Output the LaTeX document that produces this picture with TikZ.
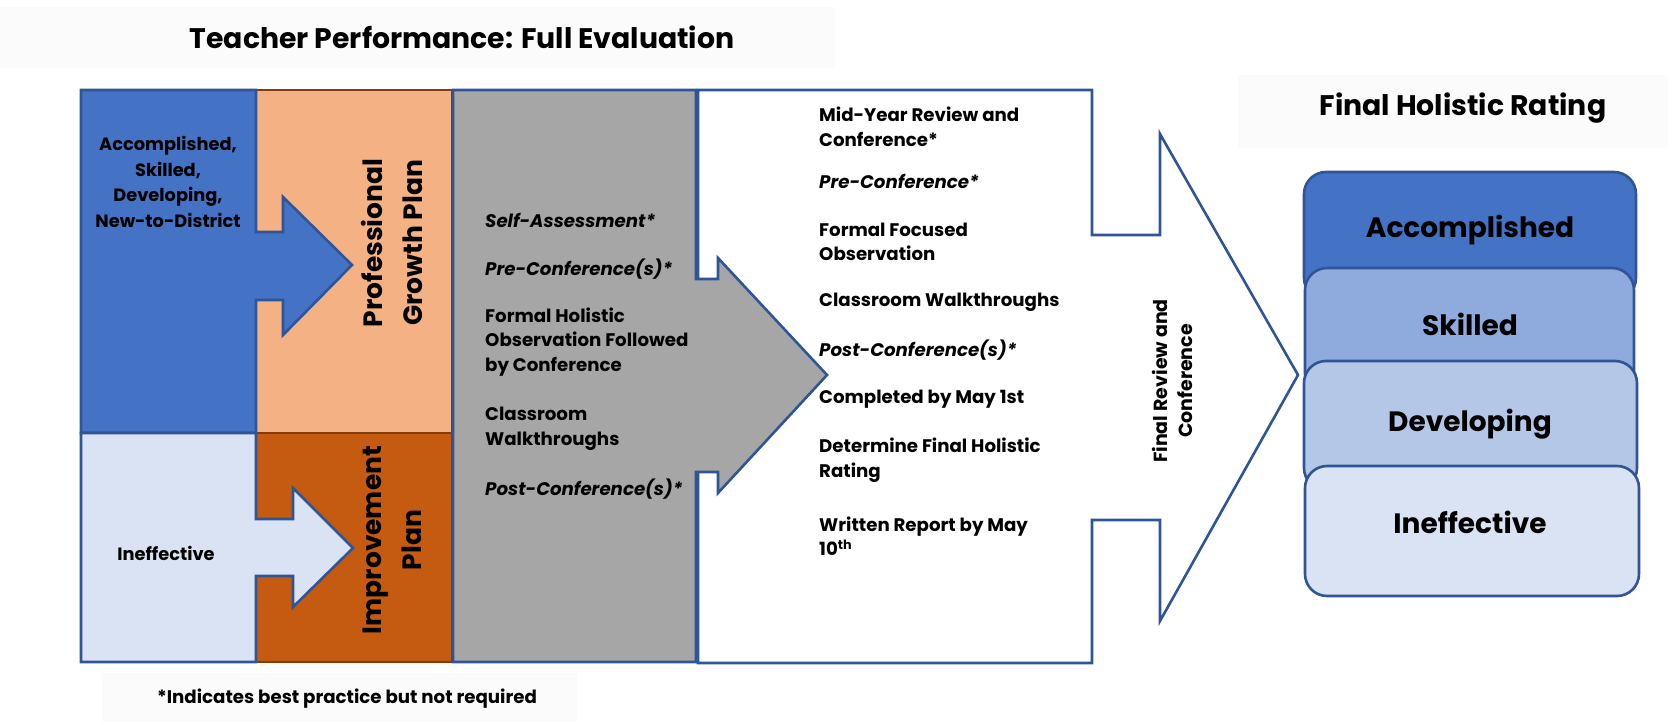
\documentclass[tikz,border=0pt]{standalone}
\usepackage{fontspec}
\setmainfont{Poppins}
\definecolor{bdblue}{HTML}{2F5597}
\definecolor{midblue}{HTML}{4472C4}
\definecolor{palblue}{HTML}{DAE3F3}
\definecolor{peach}{HTML}{F4B183}
\definecolor{rust}{HTML}{C55A11}
\definecolor{brownb}{HTML}{843C0C}
\definecolor{grayf}{HTML}{A6A6A6}
\definecolor{skblue}{HTML}{8FAADC}
\definecolor{dvblue}{HTML}{B4C7E7}
\definecolor{faint}{HTML}{FBFBFB}
\begin{document}
\begin{tikzpicture}[x=1pt,y=-1pt,line join=miter,
  bord/.style={line width=2.6pt,draw=bdblue},
  brbord/.style={line width=2.6pt,draw=brownb},
  rate/.style={line width=2.6pt,draw=bdblue,rounded corners=22pt},
  body/.style={font=\fontsize{18.2}{24.5}\selectfont\bfseries,inner sep=0pt,align=left,anchor=west},
  cbody/.style={font=\fontsize{17.8}{25.7}\selectfont\bfseries,inner sep=0pt,align=center},
  vert/.style={font=\fontsize{26.5}{40}\selectfont\bfseries,inner sep=0pt,align=center,rotate=90},
  ratetxt/.style={font=\fontsize{28}{32}\selectfont\bfseries,inner sep=0pt},
  ttl/.style={font=\fontsize{28.3}{32}\selectfont\bfseries,inner sep=0pt}]
\useasboundingbox (0,0) rectangle (1674,725);
% faint title backgrounds
\fill[faint] (0,7) rectangle (835,68);
\fill[faint] (1238,75) rectangle (1668,148);
\fill[faint] (102,673) rectangle (577,722);
% orange boxes
\draw[brbord,fill=peach] (256,90) rectangle (452,433);
\draw[brbord,fill=rust] (256,433) rectangle (452,662);
% blue left shapes with arrows
\draw[bord,fill=midblue] (81,90) -- (256,90) -- (256,232) -- (283,232) -- (283,197) -- (352,265)
  -- (283,335) -- (283,300) -- (256,300) -- (256,433) -- (81,433) -- cycle;
\draw[bord,fill=palblue] (81,433) -- (256,433) -- (256,519) -- (293,519) -- (293,488) -- (353,548)
  -- (293,607) -- (293,576) -- (256,576) -- (256,662) -- (81,662) -- cycle;
% white big arrow
\draw[bord,fill=white] (698,90) -- (1092,90) -- (1092,235) -- (1160,235) -- (1160,134) -- (1298,375)
  -- (1160,621) -- (1160,520) -- (1092,520) -- (1092,663) -- (698,663) -- cycle;
% gray arrow
\draw[bord,fill=grayf] (453,90) -- (696,90) -- (696,279) -- (718,279) -- (718,258) -- (827,375)
  -- (718,493) -- (718,472) -- (696,472) -- (696,662) -- (453,662) -- cycle;
% rating stack
\draw[rate,fill=midblue] (1304,172) rectangle (1636,300);
\draw[rate,fill=skblue] (1305,268) rectangle (1634,396);
\draw[rate,fill=dvblue] (1304,361) rectangle (1637,490);
\draw[rate,fill=palblue] (1305,466) rectangle (1639,596);
% titles
\node[ttl] (t1) at (462,37) {Teacher Performance: Full Evaluation};
\node[ttl] (t2) at (1463,108) {Final Holistic Rating};
\node[font=\fontsize{18.2}{22}\selectfont\bfseries,inner sep=0pt] (fn) at (347,699) {*Indicates best practice but not required};
% left labels
\node[cbody] (l1) at (168,182) {Accomplished,\\Skilled,\\Developing,\\New-to-District};
\node[cbody] (l2) at (166,553) {Ineffective};
\node[vert] (pgp) at (392,243) {Professional\\Growth Plan};
\node[vert] (ip) at (392,540) {Improvement\\Plan};
% gray texts
\node[body] (g1) at (485,220) {\textit{Self-Assessment*}};
\node[body] (g2) at (485,269) {\textit{Pre-Conference(s)*}};
\node[body] (g3) at (485,342) {Formal Holistic\\Observation Followed\\by Conference};
\node[body] (g4) at (485,429) {Classroom\\Walkthroughs};
\node[body] (g5) at (485,489) {\textit{Post-Conference(s)*}};
% white texts
\node[body] (w1) at (819,127) {Mid-Year Review and\\Conference*};
\node[body] (w2) at (819,181) {\textit{Pre-Conference*}};
\node[body] (w3) at (819,242) {Formal Focused\\Observation};
\node[body] (w4) at (819,302) {Classroom Walkthroughs};
\node[body] (w5) at (819,350) {\textit{Post-Conference(s)*}};
\node[body] (w6) at (819,399) {Completed by May 1st};
\node[body] (w7) at (819,460) {Determine Final Holistic\\Rating};
\node[body] (w8) at (819,536) {Written Report by May\\10\textsuperscript{th}};
\node[font=\fontsize{19}{25}\selectfont\bfseries,inner sep=0pt,align=center,rotate=90] (frc) at (1172,381) {Final Review and\\Conference};
% rating labels
\node[ratetxt] (r1) at (1470,230) {Accomplished};
\node[ratetxt] (r2) at (1470,324) {Skilled};
\node[ratetxt] (r3) at (1470,424) {Developing};
\node[ratetxt] (r4) at (1470,522) {Ineffective};
\end{tikzpicture}
\end{document}
